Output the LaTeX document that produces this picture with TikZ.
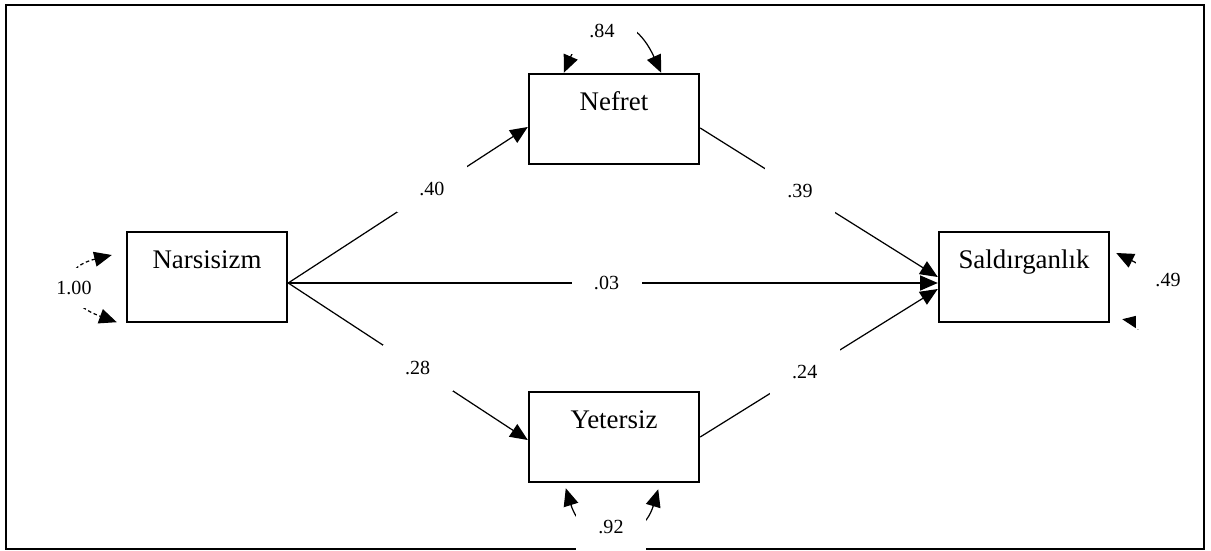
\documentclass[tikz,border=0pt]{standalone}
\usepackage{fontspec}
\setmainfont{Liberation Serif}
\usepackage{tikz}
\usetikzlibrary{arrows.meta, calc}

\begin{document}
\begin{tikzpicture}[x=0.02cm, y=-0.02cm, >={Triangle[length=10pt,width=8.5pt]},
  var/.style={draw, line width=1.4pt, inner sep=0pt, text height=0.72cm, text depth=1.08cm,
    minimum width=3.4cm, font=\fontsize{15.3}{17}\selectfont},
  coef/.style={fill=white, inner sep=0pt, minimum width=1.4cm, minimum height=0.92cm,
    font=\fontsize{11.4}{13}\selectfont},
  eff/.style={->, line width=0.7pt}]

\useasboundingbox (0,0) rectangle (1211,551);
\draw[line width=1.3pt] (6,5) rectangle (1204,549);

\node[var, minimum width=3.2cm] (nar) at (207,277) {Narsisizm};
\node[var] (nef) at (614,119) {Nefret};
\node[var] (yet) at (614,437) {Yetersiz};
\node[var] (sal) at (1024,277) {Saldırganlık};

\coordinate (nout) at ($(nar.east)+(0,6)$);
\draw[eff] (nout) -- ($(nef.west)+(0,8)$) node[coef, pos=0.6] (c40) {.40};
\draw[eff] (nout) -- ($(sal.west)+(0,6)$) node[coef, pos=0.49] (c03) {.03};
\draw[eff] (nout) -- ($(yet.west)+(0,3)$) node[coef, pos=0.54] (c28) {.28};
\draw[eff] ($(nef.east)+(0,9)$) -- (sal.west) node[coef, pos=0.42] (c39) {.39};
\draw[eff] (yet.east) -- ($(sal.west)+(0,12)$) node[coef, pos=0.44] (c24) {.24};

\draw[<->, line width=0.7pt, dash pattern=on 2pt off 1.5pt]
  ($(nar.west)+(-14,-22)$) .. controls +(-53,13) and +(-58,-21) .. ($(nar.south west)+(-9,-1)$);
\node[coef, minimum height=0.8cm] (c100) at (74,288) {1.00};

\draw[<->, line width=0.7pt]
  ($(nef.north west)+(36,0)$) .. controls +(25,-58) and +(-30,-66) .. ($(nef.north east)+(-39,0)$);
\node[coef] (c84) at (602,31) {.84};

\draw[<->, line width=0.7pt]
  ($(yet.south west)+(38,5)$) .. controls +(18,58) and +(-17,57) .. ($(yet.south east)+(-42,6)$);
\node[coef] (c92) at (611,527) {.92};

\draw[<->, line width=0.7pt]
  ($(sal.east)+(6,-24)$) .. controls +(75,37) and +(70,12) .. ($(sal.south east)+(12,-4)$);
\node[coef, minimum width=1.3cm, minimum height=1.95cm] (c49) at (1168,280) {.49};
\end{tikzpicture}
\end{document}
